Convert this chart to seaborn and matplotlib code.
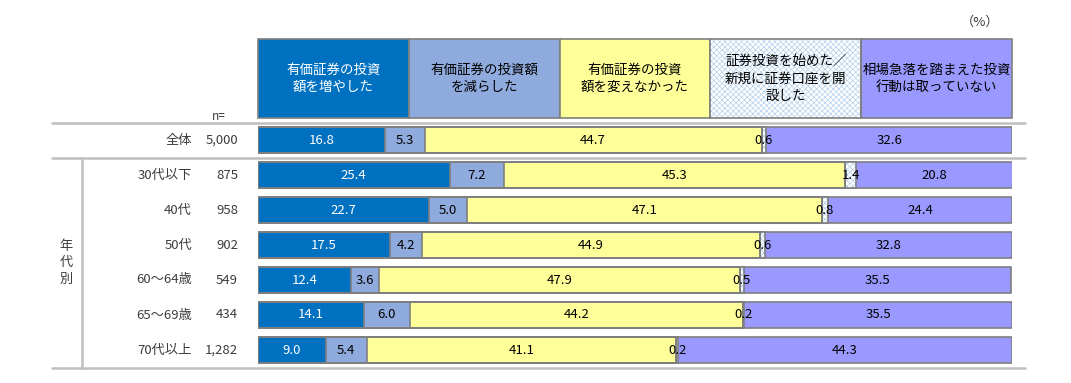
import seaborn as sns
import matplotlib.pyplot as plt
import numpy as np
from matplotlib.patches import Rectangle

# data
groups = ['全体', '30代以下', '40代', '50代', '60～64歳', '65～69歳', '70代以上']
n_counts = ['5,000', '875', '958', '902', '549', '434', '1,282']
increased = [16.8, 25.4, 22.7, 17.5, 12.4, 14.1, 9.0]
decreased = [5.3, 7.2, 5.0, 4.2, 3.6, 6.0, 5.4]
unchanged = [44.7, 45.3, 47.1, 44.9, 47.9, 44.2, 41.1]
started = [0.6, 1.4, 0.8, 0.6, 0.5, 0.2, 0.2]
no_action = [32.6, 20.8, 24.4, 32.8, 35.5, 35.5, 44.3]
headers = ['有価証券の投資\n額を増やした', '有価証券の投資額\nを減らした',
           '有価証券の投資\n額を変えなかった', '証券投資を始めた／\n新規に証券口座を開\n設した',
           '相場急落を踏まえた投資\n行動は取っていない']

sns.set_style('white')
plt.rcParams['font.family'] = ['Noto Sans CJK JP', 'DejaVu Sans']
plt.rcParams['hatch.linewidth'] = 0.5

colors = ['#0070C0', '#8FAADC', '#FFFF99', '#FFFFFF', '#9999FF']
text_colors = ['white', 'black', 'black', 'black', 'black']
edge = '#7F7F7F'
hatch_col = '#B4CFEA'
series = [increased, decreased, unchanged, started, no_action]
vals = np.array(series)
cum = np.cumsum(vals, axis=0)

W, H = 1071, 383
fig = plt.figure(figsize=(W / 100, H / 100), dpi=100)
ax = fig.add_axes([258 / W, (H - 367.5) / H, 754 / W, 245 / H])

bw = 0.74
# stacked bars: draw cumulative totals from the outside in
for k in range(4, -1, -1):
    if k == 3:
        sns.barplot(x=cum[k], y=groups, orient='h', color=colors[k], saturation=1,
                    width=bw, hatch='xxxxxx', edgecolor=hatch_col, linewidth=0, ax=ax)
    else:
        sns.barplot(x=cum[k], y=groups, orient='h', color=colors[k], saturation=1,
                    width=bw, edgecolor=edge, linewidth=1.2, ax=ax)
# outline of the hatched piece
sns.barplot(x=cum[3], y=groups, orient='h', fill=False, color=edge, saturation=1,
            width=bw, linewidth=1.2, ax=ax)
sns.barplot(x=cum[2], y=groups, orient='h', fill=False, color=edge, saturation=1,
            width=bw, linewidth=1.2, ax=ax)

ax.set_xlim(0, 100)
ax.set_ylim(6.5, -0.5)
ax.axis('off')

# value labels
for k in range(5):
    for i in range(len(groups)):
        mid = cum[k][i] - vals[k][i] / 2
        ax.text(mid, i, f'{vals[k][i]:.1f}', ha='center', va='center',
                fontsize=9.5, color=text_colors[k])

# header boxes
def px2x(p):
    return (p - 258) / 754 * 100

def py2y(p):
    return (p - 140) / 35

top, bot = py2y(39), py2y(118)
for k in range(5):
    r = Rectangle((k * 20, bot), 20, top - bot, facecolor=colors[k], edgecolor=edge,
                  linewidth=1.2, clip_on=False, zorder=3)
    if k == 3:
        r.set_hatch('xxxxxx')
        r.set_edgecolor(hatch_col)
        r.set_linewidth(0)
        ax.add_patch(Rectangle((k * 20, bot), 20, top - bot, fill=False, edgecolor=edge,
                               linewidth=1.2, clip_on=False, zorder=4))
    ax.add_patch(r)
    ax.text(k * 20 + 10, (top + bot) / 2, headers[k], ha='center', va='center',
            fontsize=9.7, linespacing=1.3, color=text_colors[k], zorder=5, clip_on=False)

# row labels and counts
lab_col = '#3C3C3C'
for i, (g, n) in enumerate(zip(groups, n_counts)):
    ax.text(px2x(192), i, g, ha='right', va='center', fontsize=9.5, color=lab_col, clip_on=False)
    ax.text(px2x(238), i, n, ha='right', va='center', fontsize=9.5, color=lab_col, clip_on=False)
ax.text(px2x(219), py2y(116), 'n=', ha='center', va='center', fontsize=8.5, color=lab_col, clip_on=False)
ax.text(px2x(66), 3.5, '年\n代\n別', ha='center', va='center', fontsize=9.5,
        linespacing=1.35, color=lab_col, clip_on=False)
ax.text(px2x(980), py2y(22), '（%）', ha='center', va='center', fontsize=9.5,
        color=lab_col, clip_on=False)

# table rules
line_col = '#BFBFBF'
x0, x1 = (52 - 258) / 754, (1025 - 258) / 754
for yy in [-0.5, 0.5, 6.5]:
    ax.axhline(yy, xmin=x0, xmax=x1, color=line_col, linewidth=1.8, clip_on=False)
ax.plot([px2x(82), px2x(82)], [0.5, 6.5], color=line_col, linewidth=1.8, clip_on=False)

fig.savefig('out.png', dpi=100)
